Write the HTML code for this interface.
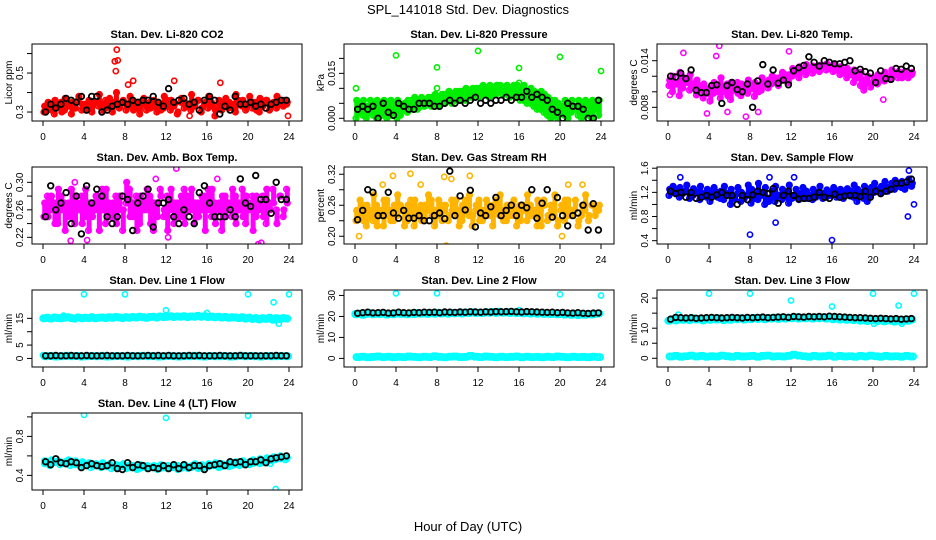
<!DOCTYPE html>
<html><head><meta charset="utf-8"><style>
html,body{margin:0;padding:0;background:#fff}
svg{display:block;font-family:"Liberation Sans",sans-serif}
</style></head><body>
<svg id="chart" width="936" height="540" viewBox="0 0 936 540" xmlns="http://www.w3.org/2000/svg">
<text x="468" y="14" text-anchor="middle" font-size="13">SPL_141018  Std. Dev. Diagnostics</text>
<text x="468" y="531" text-anchor="middle" font-size="13">Hour of Day (UTC)</text>
</svg>
<script>
// ---- data ----
const co2A=[0.33,0.35,0.31,0.36,0.34,0.30,0.37,0.33,0.35,0.32,0.38,0.34,0.31,0.36,0.33,0.35,0.39,0.34,0.32,0.37,0.35,0.40,0.33,0.36,0.34,0.38,0.31,0.35,0.33,0.37,0.34,0.32,0.36,0.35,0.31,0.38,0.33,0.36,0.34,0.30,0.37,0.35,0.33,0.39,0.34,0.36,0.32,0.35,0.38,0.33,0.31,0.36,0.34,0.37,0.35,0.32,0.39,0.34,0.36,0.33,0.38,0.35,0.31,0.37,0.34,0.36,0.33,0.35,0.38,0.34,0.36,0.35];
const co2B=[0.30,0.32,0.34,0.29,0.33,0.35,0.31,0.34,0.29,0.33,0.36,0.31,0.34,0.32,0.30,0.35,0.33,0.31,0.36,0.33,0.30,0.34,0.32,0.35,0.31,0.33,0.36,0.32,0.29,0.34,0.31,0.35,0.33,0.30,0.34,0.32,0.36,0.31,0.33,0.29,0.35,0.32,0.34,0.31,0.33,0.36,0.30,0.34,0.32,0.35,0.28,0.33,0.31,0.35,0.32,0.34,0.30,0.36,0.33,0.31,0.34,0.32,0.35,0.30,0.33,0.36,0.31,0.34,0.32,0.35,0.33,0.34];
const co2Out=[[7.2,0.62],[7.0,0.56],[7.3,0.565],[7.1,0.51],[8.3,0.44],[8.8,0.46],[12.8,0.46],[17.3,0.45],[0.1,0.30],[23.9,0.28],[14.3,0.28]];
const co2Black=[0.30,0.34,0.32,0.34,0.37,0.36,0.35,0.38,0.31,0.38,0.38,0.30,0.31,0.33,0.34,0.35,0.34,0.36,0.35,0.36,0.36,0.38,0.35,0.33,0.42,0.35,0.36,0.37,0.34,0.35,0.31,0.36,0.38,0.36,0.29,0.33,0.31,0.38,0.34,0.34,0.35,0.33,0.34,0.32,0.34,0.35,0.36,0.36];

const presA=[0.006,0.005,0.006,0.004,0.006,0.005,0.006,0.004,0.006,0.005,0.006,0.005,0.006,0.004,0.005,0.006,0.006,0.007,0.006,0.007,0.006,0.007,0.007,0.008,0.007,0.008,0.008,0.009,0.008,0.009,0.009,0.009,0.010,0.009,0.010,0.010,0.010,0.011,0.010,0.011,0.010,0.011,0.011,0.010,0.011,0.010,0.011,0.011,0.010,0.011,0.009,0.010,0.009,0.008,0.009,0.008,0.007,0.006,0.006,0.005,0.004,0.006,0.005,0.006,0.004,0.006,0.005,0.006,0.005,0.006,0.005,0.006];
const presB=[0.000,0.002,0.001,0.000,0.002,0.001,0.000,0.002,0.001,0.000,0.001,0.002,0.000,0.001,0.003,0.002,0.003,0.004,0.003,0.004,0.004,0.005,0.004,0.005,0.004,0.005,0.005,0.006,0.005,0.006,0.006,0.007,0.006,0.007,0.007,0.008,0.007,0.008,0.008,0.007,0.008,0.008,0.009,0.008,0.008,0.007,0.008,0.007,0.006,0.006,0.005,0.005,0.004,0.003,0.003,0.002,0.001,0.000,0.001,0.000,0.002,0.001,0.000,0.002,0.003,0.001,0.000,0.002,0.001,0.000,0.003,0.001];
const presOut=[[4,0.021],[12,0.0225],[20,0.0205],[8,0.017],[16,0.0168],[24,0.0158],[0.1,0.010],[8,0.010],[16,0.0118]];
const presBlack=[0.003,0.004,0.003,0.004,0.000,0.005,0.002,0.001,0.005,0.004,0.003,0.003,0.005,0.005,0.005,0.004,0.004,0.005,0.006,0.005,0.006,0.005,0.006,0.007,0.005,0.006,0.005,0.006,0.006,0.007,0.006,0.007,0.007,0.009,0.007,0.008,0.007,0.006,0.003,0.002,0.000,0.005,0.004,0.004,0.003,0.000,0.000,0.006];

const tempA=[0.0115,0.0120,0.0110,0.0125,0.0118,0.0112,0.0122,0.0108,0.0115,0.0102,0.0110,0.0098,0.0105,0.0112,0.0100,0.0118,0.0106,0.0095,0.0112,0.0104,0.0098,0.0110,0.0102,0.0115,0.0108,0.0112,0.0100,0.0118,0.0110,0.0115,0.0120,0.0112,0.0118,0.0125,0.0115,0.0122,0.0130,0.0125,0.0132,0.0128,0.0135,0.0130,0.0133,0.0128,0.0134,0.0132,0.0136,0.0130,0.0135,0.0128,0.0132,0.0125,0.0130,0.0122,0.0128,0.0118,0.0125,0.0115,0.0120,0.0110,0.0118,0.0122,0.0115,0.0125,0.0120,0.0128,0.0122,0.0126,0.0118,0.0124,0.0120,0.0125];
const tempB=[0.0108,0.0100,0.0112,0.0095,0.0105,0.0115,0.0102,0.0110,0.0096,0.0108,0.0092,0.0104,0.0088,0.0098,0.0108,0.0092,0.0100,0.0110,0.0090,0.0102,0.0112,0.0095,0.0106,0.0098,0.0104,0.0094,0.0108,0.0102,0.0112,0.0105,0.0110,0.0118,0.0108,0.0115,0.0122,0.0112,0.0120,0.0128,0.0118,0.0126,0.0122,0.0128,0.0124,0.0130,0.0126,0.0132,0.0128,0.0133,0.0126,0.0130,0.0122,0.0128,0.0118,0.0124,0.0112,0.0120,0.0108,0.0102,0.0112,0.0106,0.0114,0.0110,0.0118,0.0114,0.0120,0.0116,0.0124,0.0118,0.0122,0.0126,0.0118,0.0122];
const tempOut=[[5,0.0159],[4.7,0.0146],[11.8,0.0152],[1.5,0.0150],[3.8,0.0072],[7.6,0.0068],[8.8,0.0074],[5.8,0.0074],[0.2,0.0096],[21,0.0090]];
const tempBlack=[0.0120,0.0119,0.0124,0.0117,0.0128,0.0102,0.0099,0.0099,0.0108,0.0109,0.0085,0.0108,0.0112,0.0103,0.0100,0.0110,0.0080,0.0114,0.0135,0.0110,0.0128,0.0111,0.0115,0.0109,0.0127,0.0131,0.0134,0.0145,0.0138,0.0133,0.0140,0.0138,0.0136,0.0136,0.0138,0.0140,0.0127,0.0129,0.0126,0.0124,0.0112,0.0127,0.0117,0.0116,0.0130,0.0129,0.0133,0.0130];

const ambA=[0.27,0.25,0.28,0.24,0.29,0.26,0.23,0.27,0.25,0.28,0.26,0.24,0.29,0.27,0.25,0.28,0.23,0.26,0.29,0.25,0.27,0.24,0.28,0.26,0.30,0.25,0.27,0.23,0.28,0.26,0.29,0.24,0.27,0.25,0.28,0.26,0.23,0.29,0.27,0.25,0.28,0.24,0.26,0.29,0.27,0.25,0.28,0.23,0.26,0.29,0.24,0.27,0.28,0.25,0.26,0.29,0.24,0.27,0.25,0.28,0.26,0.23,0.28,0.27,0.25,0.29,0.26,0.27,0.24,0.28,0.26,0.27];
const ambB=[0.25,0.28,0.26,0.27,0.24,0.28,0.27,0.25,0.29,0.24,0.27,0.28,0.25,0.23,0.27,0.26,0.28,0.29,0.24,0.27,0.25,0.28,0.26,0.23,0.27,0.29,0.25,0.28,0.24,0.27,0.26,0.28,0.23,0.27,0.29,0.25,0.28,0.26,0.24,0.27,0.25,0.29,0.28,0.26,0.24,0.27,0.26,0.28,0.29,0.25,0.27,0.26,0.23,0.28,0.27,0.25,0.28,0.26,0.29,0.24,0.27,0.28,0.25,0.26,0.28,0.24,0.27,0.29,0.26,0.28,0.25,0.29];
const ambOut=[[13,0.32],[2.7,0.215],[4.3,0.216],[21,0.21],[21.3,0.212],[17,0.305],[12.2,0.22],[3.1,0.30],[11,0.305]];
const ambBlack=[0.25,0.295,0.26,0.27,0.285,0.24,0.28,0.225,0.295,0.27,0.29,0.28,0.25,0.24,0.25,0.28,0.275,0.23,0.27,0.28,0.29,0.235,0.27,0.27,0.275,0.25,0.24,0.26,0.25,0.24,0.285,0.295,0.27,0.25,0.25,0.25,0.26,0.25,0.305,0.27,0.265,0.31,0.275,0.275,0.255,0.30,0.275,0.275];

const rhA=[0.25,0.27,0.23,0.26,0.24,0.28,0.22,0.25,0.27,0.24,0.23,0.26,0.28,0.25,0.22,0.26,0.24,0.27,0.25,0.23,0.26,0.28,0.24,0.25,0.27,0.23,0.26,0.24,0.25,0.27,0.22,0.26,0.25,0.28,0.24,0.26,0.23,0.25,0.27,0.24,0.26,0.25,0.28,0.23,0.26,0.24,0.27,0.25,0.23,0.26,0.28,0.24,0.25,0.27,0.22,0.26,0.24,0.25,0.28,0.23,0.26,0.27,0.24,0.25,0.27,0.23,0.26,0.28,0.24,0.26,0.25,0.26];
const rhB=[0.23,0.24,0.26,0.22,0.25,0.23,0.26,0.24,0.22,0.27,0.25,0.23,0.24,0.26,0.25,0.23,0.27,0.22,0.24,0.26,0.23,0.25,0.27,0.22,0.24,0.26,0.25,0.23,0.27,0.24,0.25,0.23,0.27,0.24,0.22,0.25,0.27,0.23,0.24,0.26,0.22,0.27,0.24,0.25,0.23,0.26,0.24,0.22,0.26,0.25,0.23,0.26,0.24,0.22,0.25,0.27,0.23,0.26,0.24,0.22,0.25,0.23,0.27,0.24,0.25,0.22,0.24,0.25,0.23,0.26,0.24,0.25];
const rhOut=[[3.7,0.317],[5.4,0.321],[8.7,0.315],[9.4,0.311],[11.2,0.317],[0.4,0.20],[8.9,0.182],[20.2,0.20],[2.7,0.30],[6.4,0.30],[20.8,0.30],[22.2,0.30]];
const rhBlack=[0.232,0.25,0.29,0.285,0.24,0.24,0.285,0.245,0.235,0.25,0.235,0.235,0.24,0.23,0.23,0.24,0.245,0.234,0.326,0.24,0.278,0.251,0.289,0.218,0.245,0.24,0.257,0.275,0.24,0.25,0.26,0.24,0.26,0.255,0.29,0.235,0.264,0.29,0.237,0.275,0.24,0.22,0.24,0.245,0.26,0.212,0.263,0.212];

const flowA=[1.25,1.30,1.20,1.28,1.22,1.32,1.18,1.26,1.21,1.30,1.15,1.25,1.20,1.28,1.12,1.22,1.30,1.18,1.25,1.10,1.28,1.20,1.15,1.32,1.25,1.10,1.35,1.18,1.28,1.05,1.22,1.30,1.15,1.25,1.20,1.32,1.12,1.25,1.18,1.28,1.22,1.15,1.25,1.20,1.30,1.18,1.24,1.20,1.28,1.22,1.25,1.18,1.26,1.22,1.32,1.25,1.20,1.30,1.22,1.28,1.35,1.25,1.30,1.38,1.28,1.35,1.40,1.30,1.38,1.32,1.42,1.35];
const flowB=[1.15,1.20,1.25,1.12,1.18,1.22,1.10,1.15,1.20,1.08,1.18,1.12,1.05,1.15,1.20,1.10,1.08,1.15,1.00,1.12,1.18,1.05,1.10,1.15,1.02,1.12,1.08,1.15,1.00,1.10,1.12,1.05,1.15,1.08,1.12,1.02,1.10,1.15,1.08,1.12,1.10,1.15,1.08,1.12,1.15,1.10,1.12,1.15,1.18,1.12,1.15,1.10,1.18,1.14,1.12,1.05,1.15,1.10,1.05,1.15,1.20,1.22,1.18,1.25,1.22,1.28,1.25,1.30,1.28,1.25,1.32,1.30];
const flowOut=[[8,0.5],[16,0.41],[10.5,0.7],[23.4,0.8],[24,1.0],[23.5,1.56],[1.2,1.45],[12.3,1.45],[9.9,1.45]];
const flowBlack=[1.22,1.18,1.2,1.12,1.2,1.1,1.12,1.15,1.12,1.16,1.2,1.15,1.15,1.0,1.15,1.08,1.16,1.22,1.2,1.18,1.26,1.02,1.15,1.22,1.15,1.09,1.10,1.10,1.12,1.20,1.12,1.10,1.17,1.12,1.14,1.15,1.15,1.13,1.22,1.12,1.22,1.18,1.22,1.25,1.35,1.35,1.37,1.42];

const l1A=[15.0,15.2,14.9,15.3,15.1,15.0,15.2,15.4,15.1,14.9,15.3,15.0,15.2,15.1,15.4,15.0,15.2,15.3,15.1,15.4,15.2,15.5,15.3,15.1,15.4,15.2,15.5,15.3,15.6,15.4,15.2,15.5,15.6,15.3,15.7,15.5,15.6,15.8,15.5,15.7,15.6,15.8,15.5,15.7,15.6,15.9,15.6,15.8,15.5,15.7,15.4,15.6,15.3,15.5,15.2,15.4,15.3,15.1,15.4,14.9,15.2,14.8,15.1,14.6,15.0,14.8,15.2,14.5,15.0,14.7,15.1,14.9];
const l1B=[0.8,0.9,0.7,0.8,1.0,0.8,0.9,0.7,0.8,0.9,0.8,1.0,0.7,0.8,0.9,0.8,0.7,0.9,0.8,1.0,0.8,0.9,0.7,0.8,0.9,0.8,0.7,0.9,0.8,1.0,0.8,0.7,0.9,0.8,0.8,0.9,0.7,0.8,1.0,0.8,0.9,0.8,0.7,0.9,0.8,0.8,0.9,0.8];
const l1Out=[[4,24],[8,24],[20,24],[24,24],[22.5,21],[12,18],[16,17],[2,16],[20.2,15.5],[23,13],[0,1.2]];
const l1Black=[1.0,1.0,1.1,1.0,1.0,1.1,1.0,1.0,1.1,1.0,1.0,1.0,1.1,1.0,1.0,1.0,1.1,1.0,1.0,1.0,1.1,1.0,1.1,1.0,1.1,1.0,1.0,1.0,1.1,1.0,1.1,1.0,1.0,1.0,1.1,1.0,1.0,1.0,1.1,1.0,1.0,1.0,1.0,1.0,1.0,1.1,1.0,1.0];

const l2A=[21.0,21.3,20.8,21.2,21.5,21.0,21.3,21.1,21.4,20.9,21.2,21.0,21.5,21.2,21.3,21.0,21.4,21.1,21.6,21.3,21.5,21.2,21.6,21.3,21.8,21.4,21.6,21.3,21.7,21.5,21.8,21.4,21.9,21.6,22.0,21.7,21.8,21.6,22.0,21.8,22.1,21.7,22.2,21.8,22.0,21.7,21.9,21.6,21.8,21.5,21.7,21.4,21.6,21.3,21.5,21.2,21.4,21.1,21.3,21.0,21.2,20.9,21.1,20.8,21.0,20.7,21.0,20.8,21.1,20.9,21.2,21.4];
const l2B=[0.6,0.8,0.5,0.7,0.9,0.6,0.8,0.5,0.7,0.6,0.9,0.7,0.5,0.8,0.6,1.0,0.7,0.5,0.8,0.9,0.6,0.7,1.2,0.8,0.6,0.9,0.7,0.5,0.8,0.6,0.7,0.9,0.5,0.8,0.6,0.7,0.5,0.8,0.6,0.9,0.7,0.5,0.8,0.6,0.7,0.5,0.8,0.6];
const l2Out=[[4,31],[8,31],[20,30.5],[24,30],[16,23],[0,21.5]];
const l2Black=[21.5,21.8,22.0,21.7,21.8,21.9,21.6,21.7,22.0,21.8,21.7,21.9,21.8,22.0,21.9,22.0,21.8,22.1,22.0,21.9,22.1,22.0,22.2,22.1,22.0,22.2,22.1,22.3,22.2,22.3,22.4,22.2,22.1,22.3,22.2,22.1,22.0,21.9,22.0,21.8,21.9,21.7,21.6,21.8,21.5,21.4,21.6,21.7];

const l3A=[12.5,13.0,12.6,13.2,12.8,13.1,12.7,13.3,12.9,13.0,12.6,13.2,12.8,13.1,12.9,13.3,12.7,13.0,12.8,13.2,13.0,13.3,12.9,13.2,13.0,13.4,13.1,13.3,13.0,13.4,13.2,13.5,13.1,13.4,13.2,13.5,13.3,13.6,13.2,13.5,13.3,13.6,13.2,13.5,13.3,13.6,13.2,13.4,13.0,13.3,12.9,13.1,12.8,13.0,12.7,12.9,12.5,12.8,12.4,12.7,12.6,12.4,12.8,12.3,12.7,12.5,12.2,12.6,12.4,12.8,12.5,12.9];
const l3B=[0.6,0.8,0.5,0.7,0.9,0.6,0.8,0.5,0.7,0.6,0.9,0.7,0.5,0.8,0.6,0.7,0.8,0.5,0.8,0.9,0.6,0.7,0.6,0.8,1.2,0.9,0.7,0.5,0.8,0.6,0.7,0.9,0.5,0.8,0.6,0.7,0.5,0.8,0.6,0.9,0.7,0.5,0.8,0.6,0.7,0.5,0.8,0.6];
const l3Out=[[4,21.5],[8,21.5],[20,21.5],[24,21.5],[12,19.2],[16,17.2],[22.5,17.5],[1,14.5],[20.1,11.5],[22.8,11.5]];
const l3Black=[13.0,13.6,13.5,13.4,13.5,13.3,13.4,13.5,13.6,13.5,13.4,13.5,13.6,13.5,13.4,13.6,13.5,13.6,13.7,13.5,13.6,13.7,13.8,13.6,13.9,13.8,13.7,13.9,13.8,13.9,13.8,14.0,13.9,13.8,13.7,13.6,13.5,13.5,13.4,13.3,13.2,13.3,13.2,13.1,13.2,13.0,13.1,13.2];

const l4A=[0.55,0.53,0.56,0.54,0.55,0.52,0.54,0.56,0.53,0.55,0.52,0.54,0.51,0.53,0.50,0.52,0.51,0.53,0.50,0.52,0.49,0.51,0.50,0.52,0.49,0.51,0.50,0.48,0.51,0.49,0.50,0.48,0.50,0.49,0.51,0.48,0.50,0.49,0.51,0.50,0.48,0.51,0.49,0.50,0.52,0.50,0.51,0.49,0.52,0.50,0.53,0.51,0.52,0.50,0.53,0.51,0.54,0.52,0.55,0.53,0.54,0.56,0.54,0.57,0.55,0.58,0.56,0.59,0.57,0.60,0.58,0.58];
const l4B=[0.52,0.50,0.53,0.51,0.52,0.50,0.51,0.49,0.50,0.48,0.50,0.48,0.49,0.47,0.48,0.49,0.47,0.48,0.46,0.48,0.47,0.49,0.46,0.48,0.47,0.48,0.46,0.48,0.47,0.49,0.47,0.48,0.49,0.50,0.48,0.50,0.49,0.51,0.50,0.52,0.51,0.53,0.52,0.54,0.55,0.56,0.57,0.56];
const l4Out=[[4,1.02],[12,0.99],[20,1.01],[22.7,0.26],[22.2,0.52]];
const l4Black=[0.54,0.51,0.57,0.53,0.52,0.54,0.53,0.48,0.50,0.52,0.50,0.49,0.50,0.53,0.47,0.46,0.53,0.48,0.51,0.50,0.47,0.48,0.47,0.50,0.47,0.51,0.47,0.51,0.48,0.50,0.50,0.46,0.50,0.51,0.52,0.50,0.54,0.53,0.54,0.51,0.54,0.54,0.56,0.53,0.57,0.58,0.59,0.60];

// ---- panel layout config (positions/styles, not data) ----
const colX0=[43,355,668], rowTop=[44,167,290,413], boxH=77, pxPerHr=10.25;
const panels=[
 {title:"Stan. Dev. Li-820 CO2",ylab:"Licor ppm",col:0,row:0,ymin:0.254,ymax:0.649,ticks:[0.3,0.4,0.5,0.6],labels:["0.3","","0.5",""],color:"#ff0000",band:true,A:co2A,B:co2B,out:co2Out,blk:co2Black},
 {title:"Stan. Dev. Li-820 Pressure",ylab:"kPa",col:1,row:0,ymin:-0.0009,ymax:0.0248,ticks:[0,0.005,0.01,0.015,0.02],labels:["0.000","","","0.015",""],color:"#00ee00",band:true,A:presA,B:presB,out:presOut,blk:presBlack},
 {title:"Stan. Dev. Li-820 Temp.",ylab:"degrees C",col:2,row:0,ymin:0.00624,ymax:0.01615,ticks:[0.008,0.010,0.012,0.014],labels:["0.008","","","0.014"],color:"#ff00ff",band:true,A:tempA,B:tempB,out:tempOut,blk:tempBlack},
 {title:"Stan. Dev. Amb. Box Temp.",ylab:"degrees C",col:0,row:1,ymin:0.2103,ymax:0.3223,ticks:[0.22,0.24,0.26,0.28,0.30],labels:["0.22","","0.26","","0.30"],color:"#ff00ff",band:true,A:ambA,B:ambB,out:ambOut,blk:ambBlack},
 {title:"Stan. Dev. Gas Stream RH",ylab:"percent",col:1,row:1,ymin:0.185,ymax:0.334,ticks:[0.20,0.23,0.26,0.29,0.32],labels:["0.20","","0.26","","0.32"],color:"#ffb400",band:true,A:rhA,B:rhB,out:rhOut,blk:rhBlack},
 {title:"Stan. Dev. Sample Flow",ylab:"ml/min",col:2,row:1,ymin:0.345,ymax:1.62,ticks:[0.4,0.6,0.8,1.0,1.2,1.4,1.6],labels:["0.4","","0.8","","1.2","","1.6"],color:"#0000ff",band:true,A:flowA,B:flowB,out:flowOut,blk:flowBlack},
 {title:"Stan. Dev. Line 1 Flow",ylab:"ml/min",col:0,row:2,ymin:-3.2,ymax:25.6,ticks:[0,5,10,15],labels:["0","5","","15"],color:"#00ffff",band:false,A:l1A,B:l1B,out:l1Out,blk:l1Black},
 {title:"Stan. Dev. Line 2 Flow",ylab:"ml/min",col:1,row:2,ymin:-4.1,ymax:32.6,ticks:[0,10,20,30],labels:["0","10","20","30"],color:"#00ffff",band:false,A:l2A,B:l2B,out:l2Out,blk:l2Black},
 {title:"Stan. Dev. Line 3 Flow",ylab:"ml/min",col:2,row:2,ymin:-2.9,ymax:22.7,ticks:[0,5,10,15,20],labels:["0","5","10","","20"],color:"#00ffff",band:false,A:l3A,B:l3B,out:l3Out,blk:l3Black},
 {title:"Stan. Dev. Line 4 (LT) Flow",ylab:"ml/min",col:0,row:3,ymin:0.25,ymax:1.04,ticks:[0.4,0.6,0.8,1.0],labels:["0.4","","0.8",""],color:"#00ffff",band:true,A:l4A,B:l4B,out:l4Out,blk:l4Black}
];
const xTicks=[0,4,8,12,16,20,24];

const NS="http://www.w3.org/2000/svg";
const svg=document.getElementById("chart");
function mk(tag,attrs,parent){const e=document.createElementNS(NS,tag);for(const k in attrs)e.setAttribute(k,attrs[k]);(parent||svg).appendChild(e);return e;}

panels.forEach((p,pi)=>{
  const x0=colX0[p.col], top=rowTop[p.row], bot=top+boxH, left=x0-11, right=x0+24*pxPerHr+13;
  const xs=h=>x0+h*pxPerHr;
  const ys=v=>bot-(v-p.ymin)/(p.ymax-p.ymin)*boxH;
  const g=mk("g",{});
  
  
  const t=mk("text",{x:(left+right)/2,y:top-6,"text-anchor":"middle","font-size":"11","font-weight":"bold"},g);
  t.textContent=p.title;
  
  
  const clip=mk("clipPath",{id:"c"+pi},g);
  mk("rect",{x:left,y:top,width:right-left,height:boxH},clip);
  const pts=mk("g",{"clip-path":"url(#c"+pi+")"},g);
  
  
  const dot=(h,v,col,r,sw)=>{
    const c=mk("circle",{cx:xs(h).toFixed(1),cy:ys(v).toFixed(1),r:r,fill:"none",stroke:col,"stroke-width":sw},pts);
    
    
  };
  // dense sampling band between the two colored series
  if(p.band){
    p.A.forEach((v,i)=>{
      const j=Math.min(p.B.length-1,Math.floor(i*p.B.length/p.A.length));
      const h=(i+0.5)*24/p.A.length;
      const ln=mk("line",{x1:xs(h),x2:xs(h),y1:ys(v),y2:ys(p.B[j]),stroke:p.color,"stroke-width":5,"stroke-linecap":"round"},pts);
      
      
    });
  }
  const thick=p.band?1.6:2.4;
  p.A.forEach((v,i)=>dot((i+0.5)*24/p.A.length,v,p.color,2.8,thick));
  p.B.forEach((v,i)=>dot((i+0.3)*24/p.B.length,v,p.color,2.8,thick));
  if(!p.band){
    p.A.forEach((v,i)=>dot((i+0.1)*24/p.A.length,v,p.color,2.8,thick));
    p.B.forEach((v,i)=>dot((i+0.8)*24/p.B.length,v,p.color,2.8,thick));
  }
  p.out.forEach(o=>dot(o[0],o[1],p.color,2.6,1.6));
  p.blk.forEach((v,i)=>dot((i+0.5)*24/p.blk.length,v,"#000",2.8,1.8));
  const box=mk("rect",{x:left,y:top,width:right-left,height:boxH,fill:"none",stroke:"#000","stroke-width":1},g);
  
  
  xTicks.forEach(h=>{
    mk("line",{x1:xs(h),x2:xs(h),y1:bot,y2:bot+5,stroke:"#000"},g);
    const l=mk("text",{x:xs(h),y:bot+19,"text-anchor":"middle","font-size":"10"},g);
    l.textContent=h;
    
    
  });
  mk("line",{x1:xs(0),x2:xs(24),y1:bot,y2:bot,stroke:"#000"},g);
  p.ticks.forEach((v,i)=>{
    const y=ys(v);
    mk("line",{x1:left-5,x2:left,y1:y,y2:y,stroke:"#000"},g);
    if(p.labels[i]){
      const l=mk("text",{x:left-9,y:y,"text-anchor":"middle","font-size":"10",transform:`rotate(-90 ${left-9} ${y})`},g);
      l.textContent=p.labels[i];
      
      
    }
  });
  mk("line",{x1:left,x2:left,y1:ys(p.ticks[0]),y2:ys(p.ticks[p.ticks.length-1]),stroke:"#000"},g);
  const yl=mk("text",{x:left-20,y:(top+bot)/2,"text-anchor":"middle","font-size":"10",transform:`rotate(-90 ${left-20} ${(top+bot)/2})`},g);
  yl.textContent=p.ylab;
  
  
});
</script>
</body></html>
